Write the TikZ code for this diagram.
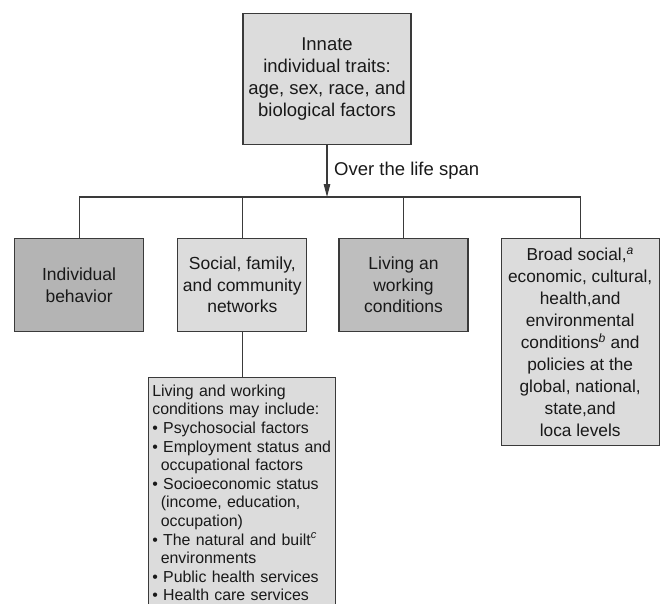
\documentclass[tikz,border=0pt]{standalone}
\usepackage{fontspec}
\setmainfont{Liberation Sans}
\usetikzlibrary{arrows.meta,positioning}
\definecolor{boxlight}{HTML}{DCDCDC}
\definecolor{boxdark}{HTML}{B4B4B4}
\definecolor{boxmid}{HTML}{BEBEBE}
\definecolor{linegray}{HTML}{3A3A3A}
\newcommand{\supit}[1]{\textsuperscript{\textit{#1}}}
\tikzset{
  box/.style  ={rectangle, draw=linegray, line width=1.2pt, fill=boxlight,
                align=center, inner sep=2pt, text=black!90},
  mbox/.style ={box, minimum width=129pt, minimum height=93pt,
                font=\fontsize{17.5}{21.5}\selectfont},
  lnk/.style  ={line width=1.2pt, draw=linegray},
  ar/.style   ={lnk, -{Triangle[length=13pt, width=6.5pt]}}
}
\begin{document}
\begin{tikzpicture}[x=1pt, y=1pt, node distance=32pt]
\useasboundingbox (0,0) rectangle (661,-603);
\clip (0,0) rectangle (661,-603);
\node[box, anchor=north, minimum width=168pt, minimum height=131pt,
      font=\fontsize{18.5}{22}\selectfont] (traits) at (327,-13)
  {Innate\\individual traits:\\age, sex, race, and\\biological factors};
\node[mbox, fill=boxdark, anchor=north west] (indiv) at (14,-238)
  {Individual\\behavior};
\node[mbox, right=33pt of indiv] (social) {Social, family,\\and community\\networks};
\node[mbox, fill=boxmid, right=31pt of social] (living) {Living an\\working\\conditions};
\node[box, minimum width=158pt, minimum height=207pt,
      font=\fontsize{17.3}{22}\selectfont,
      right=32pt of living.north east, anchor=north west] (broad)
  {Broad social,\supit{a}\\economic, cultural,\\health,and\\environmental\\
   conditions\supit{b} and\\policies at the\\global, national,\\state,and\\loca levels};
\node[box, below=45pt of social, anchor=north, text width=180pt, align=left,
      inner xsep=3.5pt, inner ysep=7pt, font=\fontsize{15.9}{18.6}\selectfont] (incl)
  {Living and working\\conditions may include:\\
   • Psychosocial factors\\
   • Employment status and\\\hspace*{8.5pt}occupational factors\\
   • Socioeconomic status\\\hspace*{8.5pt}(income, education,\\\hspace*{8.5pt}occupation)\\
   • The natural and built\supit{c}\\\hspace*{8.5pt}environments\\
   • Public health services\\
   • Health care services\\[4pt]};
\coordinate (bus) at (327,-197);
\draw[ar] (traits) -- (bus);
\node[anchor=base west, inner sep=0pt, text=black!90,
      font=\fontsize{18.5}{22}\selectfont] (span) at (334,-175) {Over the life span};
\draw[lnk] (indiv.north) |- (bus) -| (broad.north);
\draw[lnk] (social.north) -- (social.north |- bus);
\draw[lnk] (living.north) -- (living.north |- bus);
\draw[lnk] (social) -- (incl);
\end{tikzpicture}
\end{document}
